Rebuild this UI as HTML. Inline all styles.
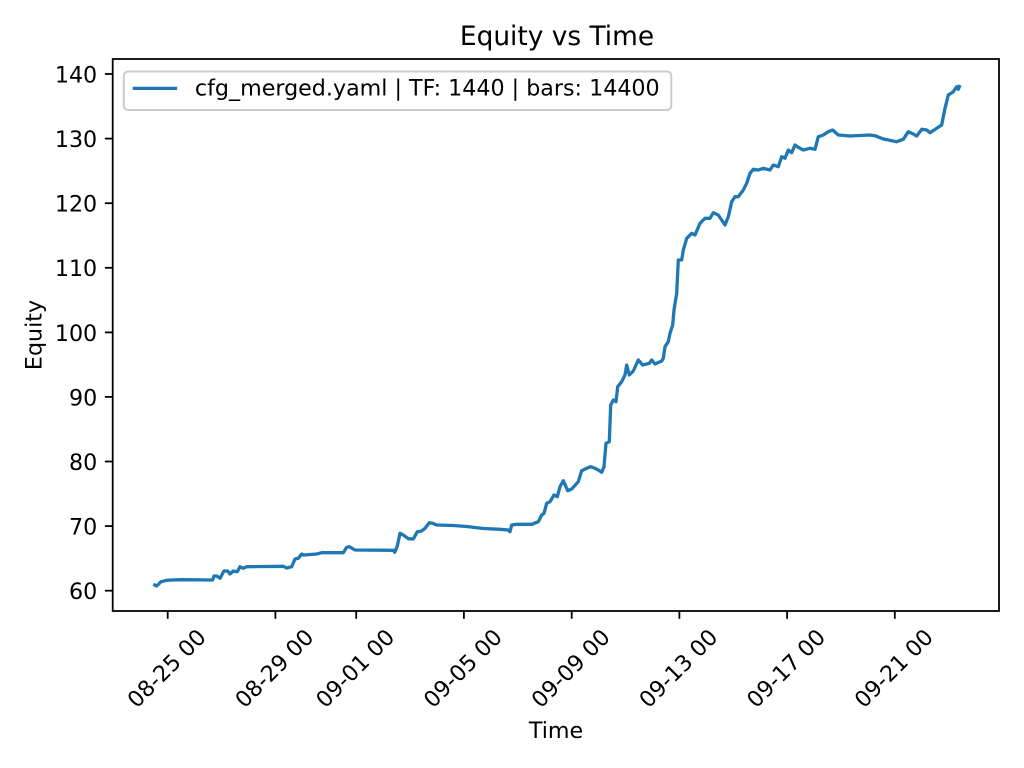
<!DOCTYPE html>
<html>
<head>
<meta charset="utf-8">
<style>
  html, body { margin:0; padding:0; background:#ffffff; }
  svg { display:block; }
  text { font-family: "DejaVu Sans", "Liberation Sans", sans-serif; fill:#000; }
</style>
</head>
<body>
<svg width="1024" height="768" viewBox="0 0 1024 768" xmlns="http://www.w3.org/2000/svg">
  <rect x="0" y="0" width="1024" height="768" fill="#ffffff"/>

  <!-- Title -->
  <text x="557" y="45" font-size="26.4" text-anchor="middle">Equity vs Time</text>

  <!-- Series -->
  <polyline fill="none" stroke="#1f77b4" stroke-width="3.3" stroke-linejoin="round" stroke-linecap="butt"
    points="153.3,584.3 156.7,586 161,581.7 166.7,580.3 171.7,580 181.7,579.7 212.7,580 214,576 216.7,576 220,578.3 224,571 227.7,571 230,574 233.3,571 237.3,571.7 240,566.7 243.3,568.3 246.7,566.7 283.3,566.3 286.7,568 291.7,566.7 295,559 298.3,558.3 301.7,554 304,555 316.7,554 321.7,552.7 343.3,552.7 346.7,547.3 349.3,546.7 355,550 393.3,550.3 394.7,552.3 397.3,546 400,533.3 403.3,535 408.3,538.7 413.3,539 417.3,531.7 421.7,531 425,528.3 429.3,522.7 432.7,523.3 436.7,525 453.3,525.5 466.7,526.5 483.3,528.5 500,529.3 508.3,530 510,531.7 511.7,525 516.7,524.3 531.7,524.3 538.3,521.7 541.7,515 544,513.3 546.7,503.3 550,501.7 554,495 557.3,496.7 560,486.7 563.3,480.7 567.7,490.7 571.7,489 578.3,481.7 581.7,470.7 586.7,468.3 590.7,466.7 595,468.3 598.3,470 601.7,472.3 604,466.7 606,443.3 609.3,441.7 610.7,405 613.3,400 616,401.7 617.7,386.7 621.7,381.7 625,375 626.7,365 629.3,375 633.3,371 638.3,360 642.7,365 649.3,363.3 651.7,360 655,364 661.7,361 663.3,358.3 665,346.7 668.3,341.7 670,333.3 672.7,325 674,310 676.7,293.3 678.3,260 681.7,260 683.3,250 686.7,238.3 691.7,233.3 695,235 700,223.3 705,218.3 710,218.3 713.3,212.7 718.3,215 725,225 728.3,216.7 731.7,201.7 735,196.7 738.3,196.7 743.3,190 746.7,183.3 750,173.3 753.3,169.3 758.3,170 763.3,168.3 770,170 773.3,165 778.3,166.7 781.7,156.7 785,158.3 788.3,150 791.7,152.7 795,145 798.3,147.3 803.3,150 810,148.3 815,149.3 818.3,136.7 823.3,135 828.3,131.7 832.7,130 838.3,135 850,136 870,135 875,135.7 883.3,139 896.7,141.7 903.3,139.3 908.3,131.7 913.3,134 916.7,136 921.7,129.3 926.7,130 930,132.7 936.7,128.3 941.7,125 943.3,116.7 945,108.3 948.3,95 953.3,91.7 956.7,86.7 958.3,89.3 960,85"/>

  <!-- Axes spines -->
  <rect x="112.7" y="59" width="886.3" height="552" fill="none" stroke="#000" stroke-width="1.78"/>

  <!-- Y ticks -->
  <g stroke="#000" stroke-width="1.78">
    <line x1="104.9" y1="590.7" x2="112.7" y2="590.7"/>
    <line x1="104.9" y1="526.1" x2="112.7" y2="526.1"/>
    <line x1="104.9" y1="461.5" x2="112.7" y2="461.5"/>
    <line x1="104.9" y1="396.9" x2="112.7" y2="396.9"/>
    <line x1="104.9" y1="332.4" x2="112.7" y2="332.4"/>
    <line x1="104.9" y1="267.8" x2="112.7" y2="267.8"/>
    <line x1="104.9" y1="203.2" x2="112.7" y2="203.2"/>
    <line x1="104.9" y1="138.6" x2="112.7" y2="138.6"/>
    <line x1="104.9" y1="74.0" x2="112.7" y2="74.0"/>
  </g>
  <g font-size="22.2" text-anchor="end">
    <text x="97.2" y="599.1">60</text>
    <text x="97.2" y="534.5">70</text>
    <text x="97.2" y="469.9">80</text>
    <text x="97.2" y="405.3">90</text>
    <text x="97.2" y="340.8">100</text>
    <text x="97.2" y="276.2">110</text>
    <text x="97.2" y="211.6">120</text>
    <text x="97.2" y="147.0">130</text>
    <text x="97.2" y="82.4">140</text>
  </g>

  <!-- X ticks -->
  <g stroke="#000" stroke-width="1.78">
    <line x1="167.7" y1="611" x2="167.7" y2="618.8"/>
    <line x1="275.4" y1="611" x2="275.4" y2="618.8"/>
    <line x1="356.2" y1="611" x2="356.2" y2="618.8"/>
    <line x1="463.9" y1="611" x2="463.9" y2="618.8"/>
    <line x1="571.7" y1="611" x2="571.7" y2="618.8"/>
    <line x1="679.4" y1="611" x2="679.4" y2="618.8"/>
    <line x1="787.1" y1="611" x2="787.1" y2="618.8"/>
    <line x1="894.8" y1="611" x2="894.8" y2="618.8"/>
  </g>
  <g font-size="22.2" text-anchor="middle">
    <g transform="translate(167.7,669.4) rotate(-45)"><text x="0" y="6.15">08-25 00</text></g>
    <g transform="translate(275.4,669.4) rotate(-45)"><text x="0" y="6.15">08-29 00</text></g>
    <g transform="translate(356.2,669.4) rotate(-45)"><text x="0" y="6.15">09-01 00</text></g>
    <g transform="translate(463.9,669.4) rotate(-45)"><text x="0" y="6.15">09-05 00</text></g>
    <g transform="translate(571.7,669.4) rotate(-45)"><text x="0" y="6.15">09-09 00</text></g>
    <g transform="translate(679.4,669.4) rotate(-45)"><text x="0" y="6.15">09-13 00</text></g>
    <g transform="translate(787.1,669.4) rotate(-45)"><text x="0" y="6.15">09-17 00</text></g>
    <g transform="translate(894.8,669.4) rotate(-45)"><text x="0" y="6.15">09-21 00</text></g>
  </g>

  <!-- Axis labels -->
  <text x="556" y="738" font-size="22.2" text-anchor="middle">Time</text>
  <g transform="translate(41.3,335) rotate(-90)"><text x="0" y="0" font-size="22.2" text-anchor="middle">Equity</text></g>

  <!-- Legend -->
  <rect x="123.8" y="71.5" width="547.5" height="38.5" rx="4.4" ry="4.4" fill="#ffffff" fill-opacity="0.8" stroke="#cccccc" stroke-width="2"/>
  <line x1="132.7" y1="88.4" x2="177.1" y2="88.4" stroke="#1f77b4" stroke-width="3.3"/>
  <text x="194.9" y="95.5" font-size="22.2">cfg_merged.yaml | TF: 1440 | bars: 14400</text>
</svg>
</body>
</html>
